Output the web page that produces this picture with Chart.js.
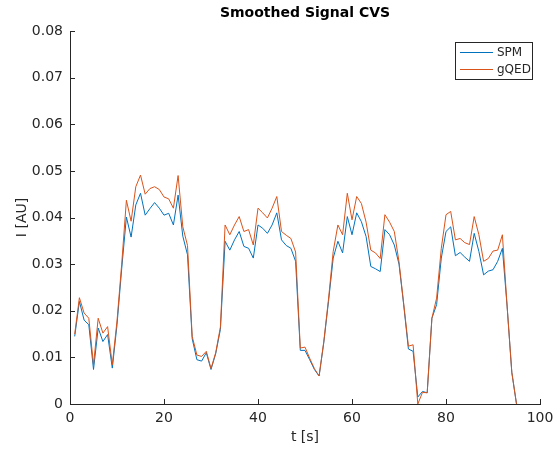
<!DOCTYPE html>
<html>
<head>
<meta charset="utf-8">
<script src="https://cdn.jsdelivr.net/npm/chart.js@4/dist/chart.umd.min.js"></script>
<style>
  html, body { margin: 0; padding: 0; background: #ffffff; }
  #wrap { width: 554px; height: 450px; }
</style>
</head>
<body>
<div id="wrap"><canvas id="c" width="554" height="450"></canvas></div>
<script>
const chartTitle = 'Smoothed Signal CVS';
const xTitle = 't [s]';
const yTitle = 'I [AU]';
const seriesNames = ['SPM', 'gQED'];
const xTicks = [0, 20, 40, 60, 80, 100];
const yTicks = [0, 0.01, 0.02, 0.03, 0.04, 0.05, 0.06, 0.07, 0.08];

const time = [1,2,3,4,5,6,7,8,9,10,11,12,13,14,15,16,17,18,19,20,
  21,22,23,24,25,26,27,28,29,30,31,32,33,34,35,36,37,38,39,40,
  41,42,43,44,45,46,47,48,49,50,51,52,53,54,55,56,57,58,59,60,
  61,62,63,64,65,66,67,68,69,70,71,72,73,74,75,76,77,78,79,80,
  81,82,83,84,85,86,87,88,89,90,91,92,93,94,95];

const spm = [0.0145,0.0220,0.0180,0.0170,0.0074,0.0163,0.0134,0.0149,0.0077,0.0170,
  0.0290,0.0401,0.0358,0.0427,0.0452,0.0405,0.0419,0.0432,0.0420,0.0405,
  0.0409,0.0384,0.0448,0.0360,0.0320,0.0140,0.0095,0.0092,0.0110,0.0074,
  0.0108,0.0160,0.0349,0.0330,0.0352,0.0370,0.0338,0.0334,0.0313,0.0384,
  0.0377,0.0366,0.0384,0.0410,0.0352,0.0340,0.0334,0.0306,0.0115,0.0115,
  0.0095,0.0074,0.0060,0.0132,0.0220,0.0313,0.0349,0.0324,0.0402,0.0363,
  0.0410,0.0391,0.0359,0.0295,0.0290,0.0284,0.0374,0.0363,0.0341,0.0300,
  0.0213,0.0118,0.0113,0.0015,0.0027,0.0024,0.0184,0.0213,0.0313,0.0370,
  0.0380,0.0318,0.0325,0.0315,0.0306,0.0366,0.0327,0.0277,0.0285,0.0288,
  0.0306,0.0334,0.0210,0.0068,0.0000];

const gqed = [0.0150,0.0228,0.0195,0.0184,0.0084,0.0184,0.0152,0.0166,0.0084,0.0178,
  0.0300,0.0437,0.0392,0.0466,0.0491,0.0450,0.0462,0.0466,0.0460,0.0444,
  0.0440,0.0420,0.0490,0.0380,0.0340,0.0145,0.0105,0.0102,0.0113,0.0076,
  0.0110,0.0165,0.0384,0.0363,0.0384,0.0402,0.0370,0.0374,0.0341,0.0420,
  0.0410,0.0399,0.0420,0.0445,0.0370,0.0362,0.0355,0.0326,0.0120,0.0122,
  0.0098,0.0076,0.0060,0.0134,0.0225,0.0327,0.0384,0.0363,0.0452,0.0395,
  0.0445,0.0430,0.0390,0.0330,0.0324,0.0312,0.0406,0.0390,0.0370,0.0305,
  0.0215,0.0124,0.0127,0.0000,0.0025,0.0024,0.0184,0.0227,0.0334,0.0406,
  0.0413,0.0352,0.0355,0.0346,0.0342,0.0402,0.0363,0.0306,0.0312,0.0328,
  0.0330,0.0363,0.0210,0.0068,0.0000];

const colors = ['#0072BD', '#D95319'];
const axisColor = '#262626';
const FONT = 'DejaVu Sans';

function pts(xs, ys) { return xs.map((x, i) => ({ x: x, y: ys[i] })); }

const innerTicks = {
  id: 'innerTicks',
  afterDraw(chart) {
    const ctx = chart.ctx;
    const a = chart.chartArea;
    const xs = chart.scales.x, ys = chart.scales.y;
    ctx.save();
    ctx.strokeStyle = axisColor;
    ctx.lineWidth = 1;
    ctx.beginPath();
    xs.ticks.forEach(t => {
      const px = Math.round(xs.getPixelForValue(t.value)) + 0.5;
      ctx.moveTo(px, a.bottom);
      ctx.lineTo(px, a.bottom - 5);
    });
    ys.ticks.forEach(t => {
      const py = Math.round(ys.getPixelForValue(t.value)) + 0.5;
      ctx.moveTo(a.left, py);
      ctx.lineTo(a.left + 5, py);
    });
    ctx.stroke();
    ctx.restore();
  }
};

const boxLegend = {
  id: 'boxLegend',
  afterDraw(chart) {
    const ctx = chart.ctx;
    const a = chart.chartArea;
    const w = 77, h = 37;
    const x0 = a.right - 8 - w, y0 = a.top + 11;
    ctx.save();
    ctx.fillStyle = '#ffffff';
    ctx.fillRect(x0, y0, w, h);
    ctx.strokeStyle = axisColor;
    ctx.lineWidth = 1;
    ctx.strokeRect(Math.round(x0) + 0.5, Math.round(y0) + 0.5, w, h);
    ctx.font = '12px "' + FONT + '"';
    ctx.textBaseline = 'middle';
    ctx.textAlign = 'left';
    chart.data.datasets.forEach((ds, i) => {
      const yy = Math.round(y0 + 10 + i * 17) + 0.5;
      ctx.strokeStyle = ds.borderColor;
      ctx.lineWidth = 1;
      ctx.beginPath();
      ctx.moveTo(x0 + 5, yy);
      ctx.lineTo(x0 + 38, yy);
      ctx.stroke();
      ctx.fillStyle = axisColor;
      ctx.fillText(ds.label, x0 + 42, yy);
    });
    ctx.restore();
  }
};

new Chart(document.getElementById('c'), {
  type: 'line',
  data: {
    datasets: [
      { label: seriesNames[0], data: pts(time, spm), borderColor: colors[0], backgroundColor: colors[0],
        borderWidth: 1, pointRadius: 0, tension: 0, fill: false, order: 1, clip: false },
      { label: seriesNames[1], data: pts(time, gqed), borderColor: colors[1], backgroundColor: colors[1],
        borderWidth: 1, pointRadius: 0, tension: 0, fill: false, order: 0, clip: false }
    ]
  },
  options: {
    responsive: false,
    animation: false,
    events: [],
    layout: { padding: { left: 0, right: 14, top: 0, bottom: 0 } },
    plugins: {
      legend: { display: false },
      tooltip: { enabled: false },
      title: {
        display: true,
        text: chartTitle,
        fullSize: false,
        color: '#000000',
        font: { family: FONT, size: 14, weight: 'bold' },
        padding: { top: 5, bottom: 9.2 }
      }
    },
    scales: {
      x: {
        type: 'linear',
        min: 0, max: 100,
        afterFit(s) { s.height = 46; s.paddingLeft = 0; s.paddingRight = 0; },
        afterBuildTicks(s) { s.ticks = xTicks.map(v => ({ value: v })); },
        grid: { display: false, drawTicks: false },
        border: { display: true, color: axisColor, width: 1 },
        ticks: { color: axisColor, font: { family: FONT, size: 14 }, padding: 6, maxRotation: 0,
          callback: v => String(v) },
        title: { display: true, text: xTitle, color: axisColor, font: { family: FONT, size: 14 },
          padding: { top: 0, bottom: 4 } }
      },
      y: {
        type: 'linear',
        min: 0, max: 0.08,
        afterFit(s) { s.width = 70; s.paddingTop = 0; s.paddingBottom = 0; },
        afterBuildTicks(s) { s.ticks = yTicks.map(v => ({ value: v })); },
        grid: { display: false, drawTicks: false },
        border: { display: true, color: axisColor, width: 1 },
        ticks: { color: axisColor, font: { family: FONT, size: 14 }, padding: 7,
          callback: v => (v === 0 ? '0' : v.toFixed(2)) },
        title: { display: true, text: yTitle, color: axisColor, font: { family: FONT, size: 14 },
          padding: { top: 14, bottom: 0 } }
      }
    }
  },
  plugins: [innerTicks, boxLegend]
});
</script>
</body>
</html>
